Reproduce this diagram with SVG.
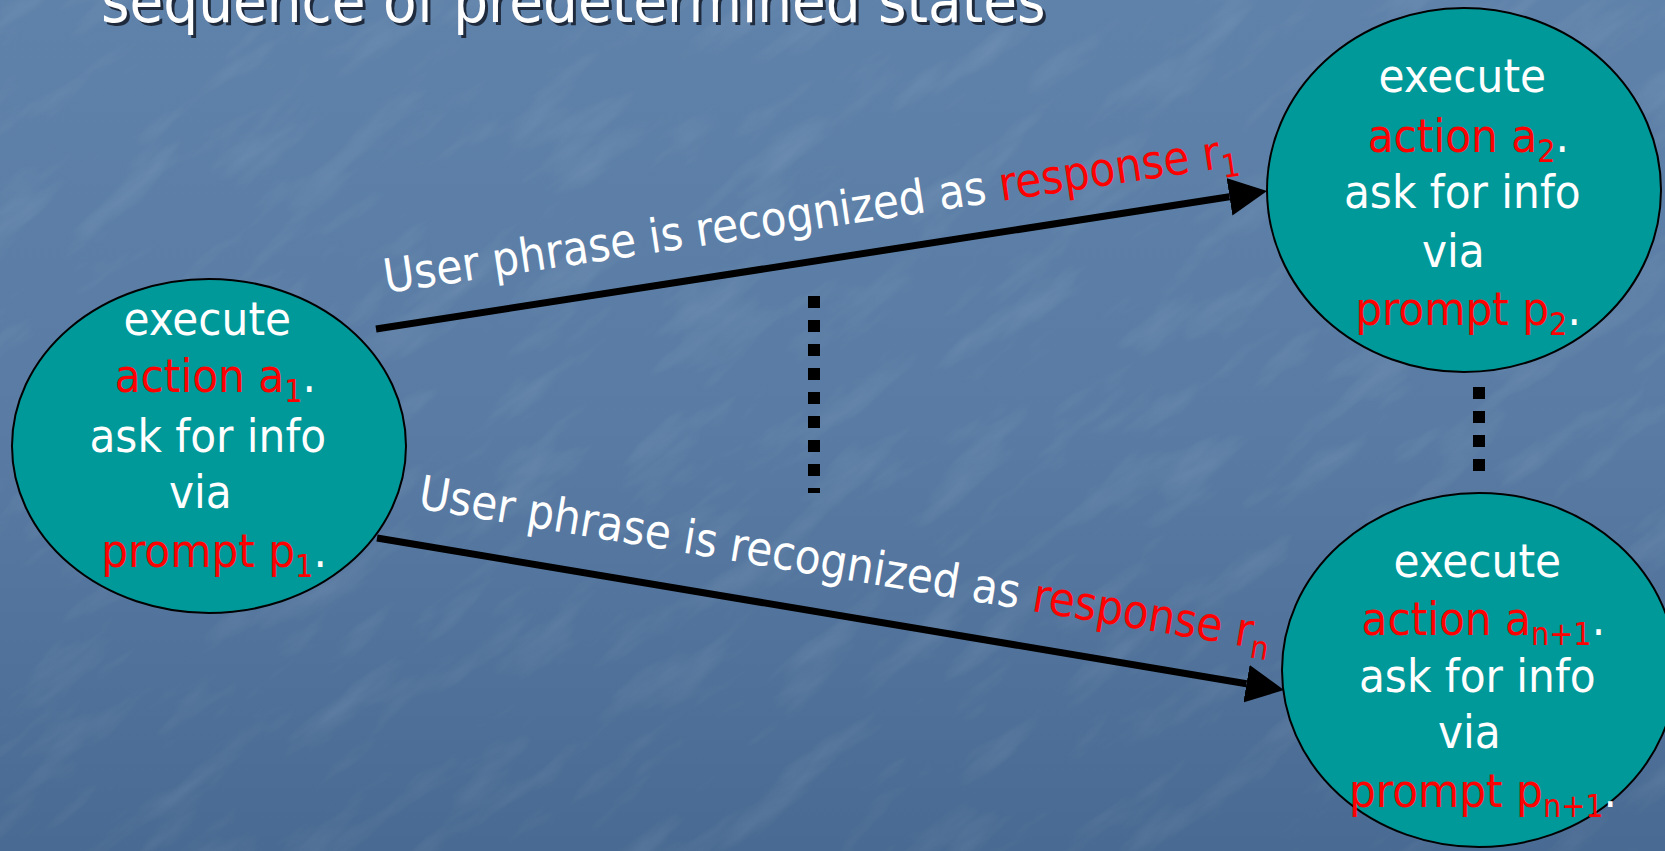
<svg xmlns="http://www.w3.org/2000/svg" width="1665" height="851" viewBox="0 0 1665 851">
  <defs>
    <linearGradient id="bg" x1="0" y1="0" x2="0" y2="1">
      <stop offset="0" stop-color="#5f82aa"/>
      <stop offset="0.5" stop-color="#5a7ca4"/>
      <stop offset="1" stop-color="#496a92"/>
    </linearGradient>
    <filter id="grain" x="0" y="0" width="100%" height="100%">
      <feTurbulence type="fractalNoise" baseFrequency="0.008 0.03" numOctaves="4" seed="11"/>
      <feColorMatrix type="matrix" values="0 0 0 0 1  0 0 0 0 1  0 0 0 0 1  0 0 0 1.2 -0.62"/>
    </filter>
    <marker id="head" viewBox="0 -19 38 38" refX="0" refY="0" markerWidth="38" markerHeight="38" markerUnits="userSpaceOnUse" orient="auto">
      <path d="M0,-19 L38,0 L0,19 Z" fill="#000"/>
    </marker>
    <style>
      .t { font-family: "DejaVu Sans Condensed", "DejaVu Sans", sans-serif; font-size: 47px; fill: #ffffff; }
      .r { fill: #ff0000; }
      .w { fill: #ffffff; }
      .sub { font-size: 32px; }
      .node { fill: #009999; stroke: #000; stroke-width: 2; }
      .edge { stroke: #000; stroke-width: 7; fill: none; }
      .dots { stroke: #000; stroke-width: 12; stroke-dasharray: 12 12; fill: none; }
      .title { font-family: "DejaVu Sans Condensed", "DejaVu Sans", sans-serif; font-size: 61px; }
    </style>
  </defs>

  <rect x="0" y="0" width="1665" height="851" fill="url(#bg)"/>
  <g opacity="0.18" transform="rotate(-38 832 425)">
    <rect x="-600" y="-600" width="2865" height="2051" filter="url(#grain)"/>
  </g>

  <g id="title">
    <text class="title" x="104" y="25" fill="#141c2a" fill-opacity="0.85">sequence of predetermined states</text>
    <text class="title" x="101" y="22" fill="#ffffff">sequence of predetermined states</text>
  </g>

  <g id="connectors">
    <line class="edge" x1="376" y1="329" x2="1229.5" y2="196.8" marker-end="url(#head)"/>
    <line class="edge" x1="377" y1="538" x2="1246.5" y2="683.7" marker-end="url(#head)"/>
    <line class="dots" x1="814" y1="296" x2="814" y2="493"/>
    <line class="dots" x1="1479" y1="387" x2="1479" y2="471"/>
    <text class="t" x="386" y="293" transform="rotate(-8.5 386 293)">User phrase is recognized as <tspan class="r">response r</tspan><tspan class="r sub" dy="10">1</tspan></text>
    <text class="t" x="417" y="508" transform="rotate(9.5 417 508)">User phrase is recognized as <tspan class="r">response r</tspan><tspan class="r sub" dy="10">n</tspan></text>
  </g>

  <g id="state1">
    <ellipse class="node" cx="209" cy="446" rx="197" ry="167"/>
    <text class="t" text-anchor="middle">
      <tspan x="214" y="335">execute</tspan>
      <tspan x="222" y="392"><tspan class="r">action a</tspan><tspan class="r sub" dy="10">1</tspan><tspan class="w" dy="-10">.</tspan></tspan>
      <tspan x="214.5" y="452">ask for info</tspan>
      <tspan x="207" y="508">via</tspan>
      <tspan x="214" y="567"><tspan class="r">prompt p</tspan><tspan class="r sub" dy="10">1</tspan><tspan class="w" dy="-10">.</tspan></tspan>
    </text>
  </g>

  <g id="state2">
    <ellipse class="node" cx="1464" cy="190" rx="197" ry="182"/>
    <text class="t" text-anchor="middle">
      <tspan x="1469" y="92">execute</tspan>
      <tspan x="1475" y="152"><tspan class="r">action a</tspan><tspan class="r sub" dy="10">2</tspan><tspan class="w" dy="-10">.</tspan></tspan>
      <tspan x="1469" y="208">ask for info</tspan>
      <tspan x="1460" y="267">via</tspan>
      <tspan x="1468" y="325"><tspan class="r">prompt p</tspan><tspan class="r sub" dy="10">2</tspan><tspan class="w" dy="-10">.</tspan></tspan>
    </text>
  </g>

  <g id="stateN1">
    <ellipse class="node" cx="1479" cy="670" rx="197" ry="177"/>
    <text class="t" text-anchor="middle">
      <tspan x="1484" y="577">execute</tspan>
      <tspan x="1490" y="635"><tspan class="r">action a</tspan><tspan class="r sub" dy="10">n+1</tspan><tspan class="w" dy="-10">.</tspan></tspan>
      <tspan x="1484" y="692">ask for info</tspan>
      <tspan x="1476" y="748">via</tspan>
      <tspan x="1483" y="807"><tspan class="r">prompt p</tspan><tspan class="r sub" dy="10">n+1</tspan><tspan class="w" dy="-10">.</tspan></tspan>
    </text>
  </g>
</svg>
